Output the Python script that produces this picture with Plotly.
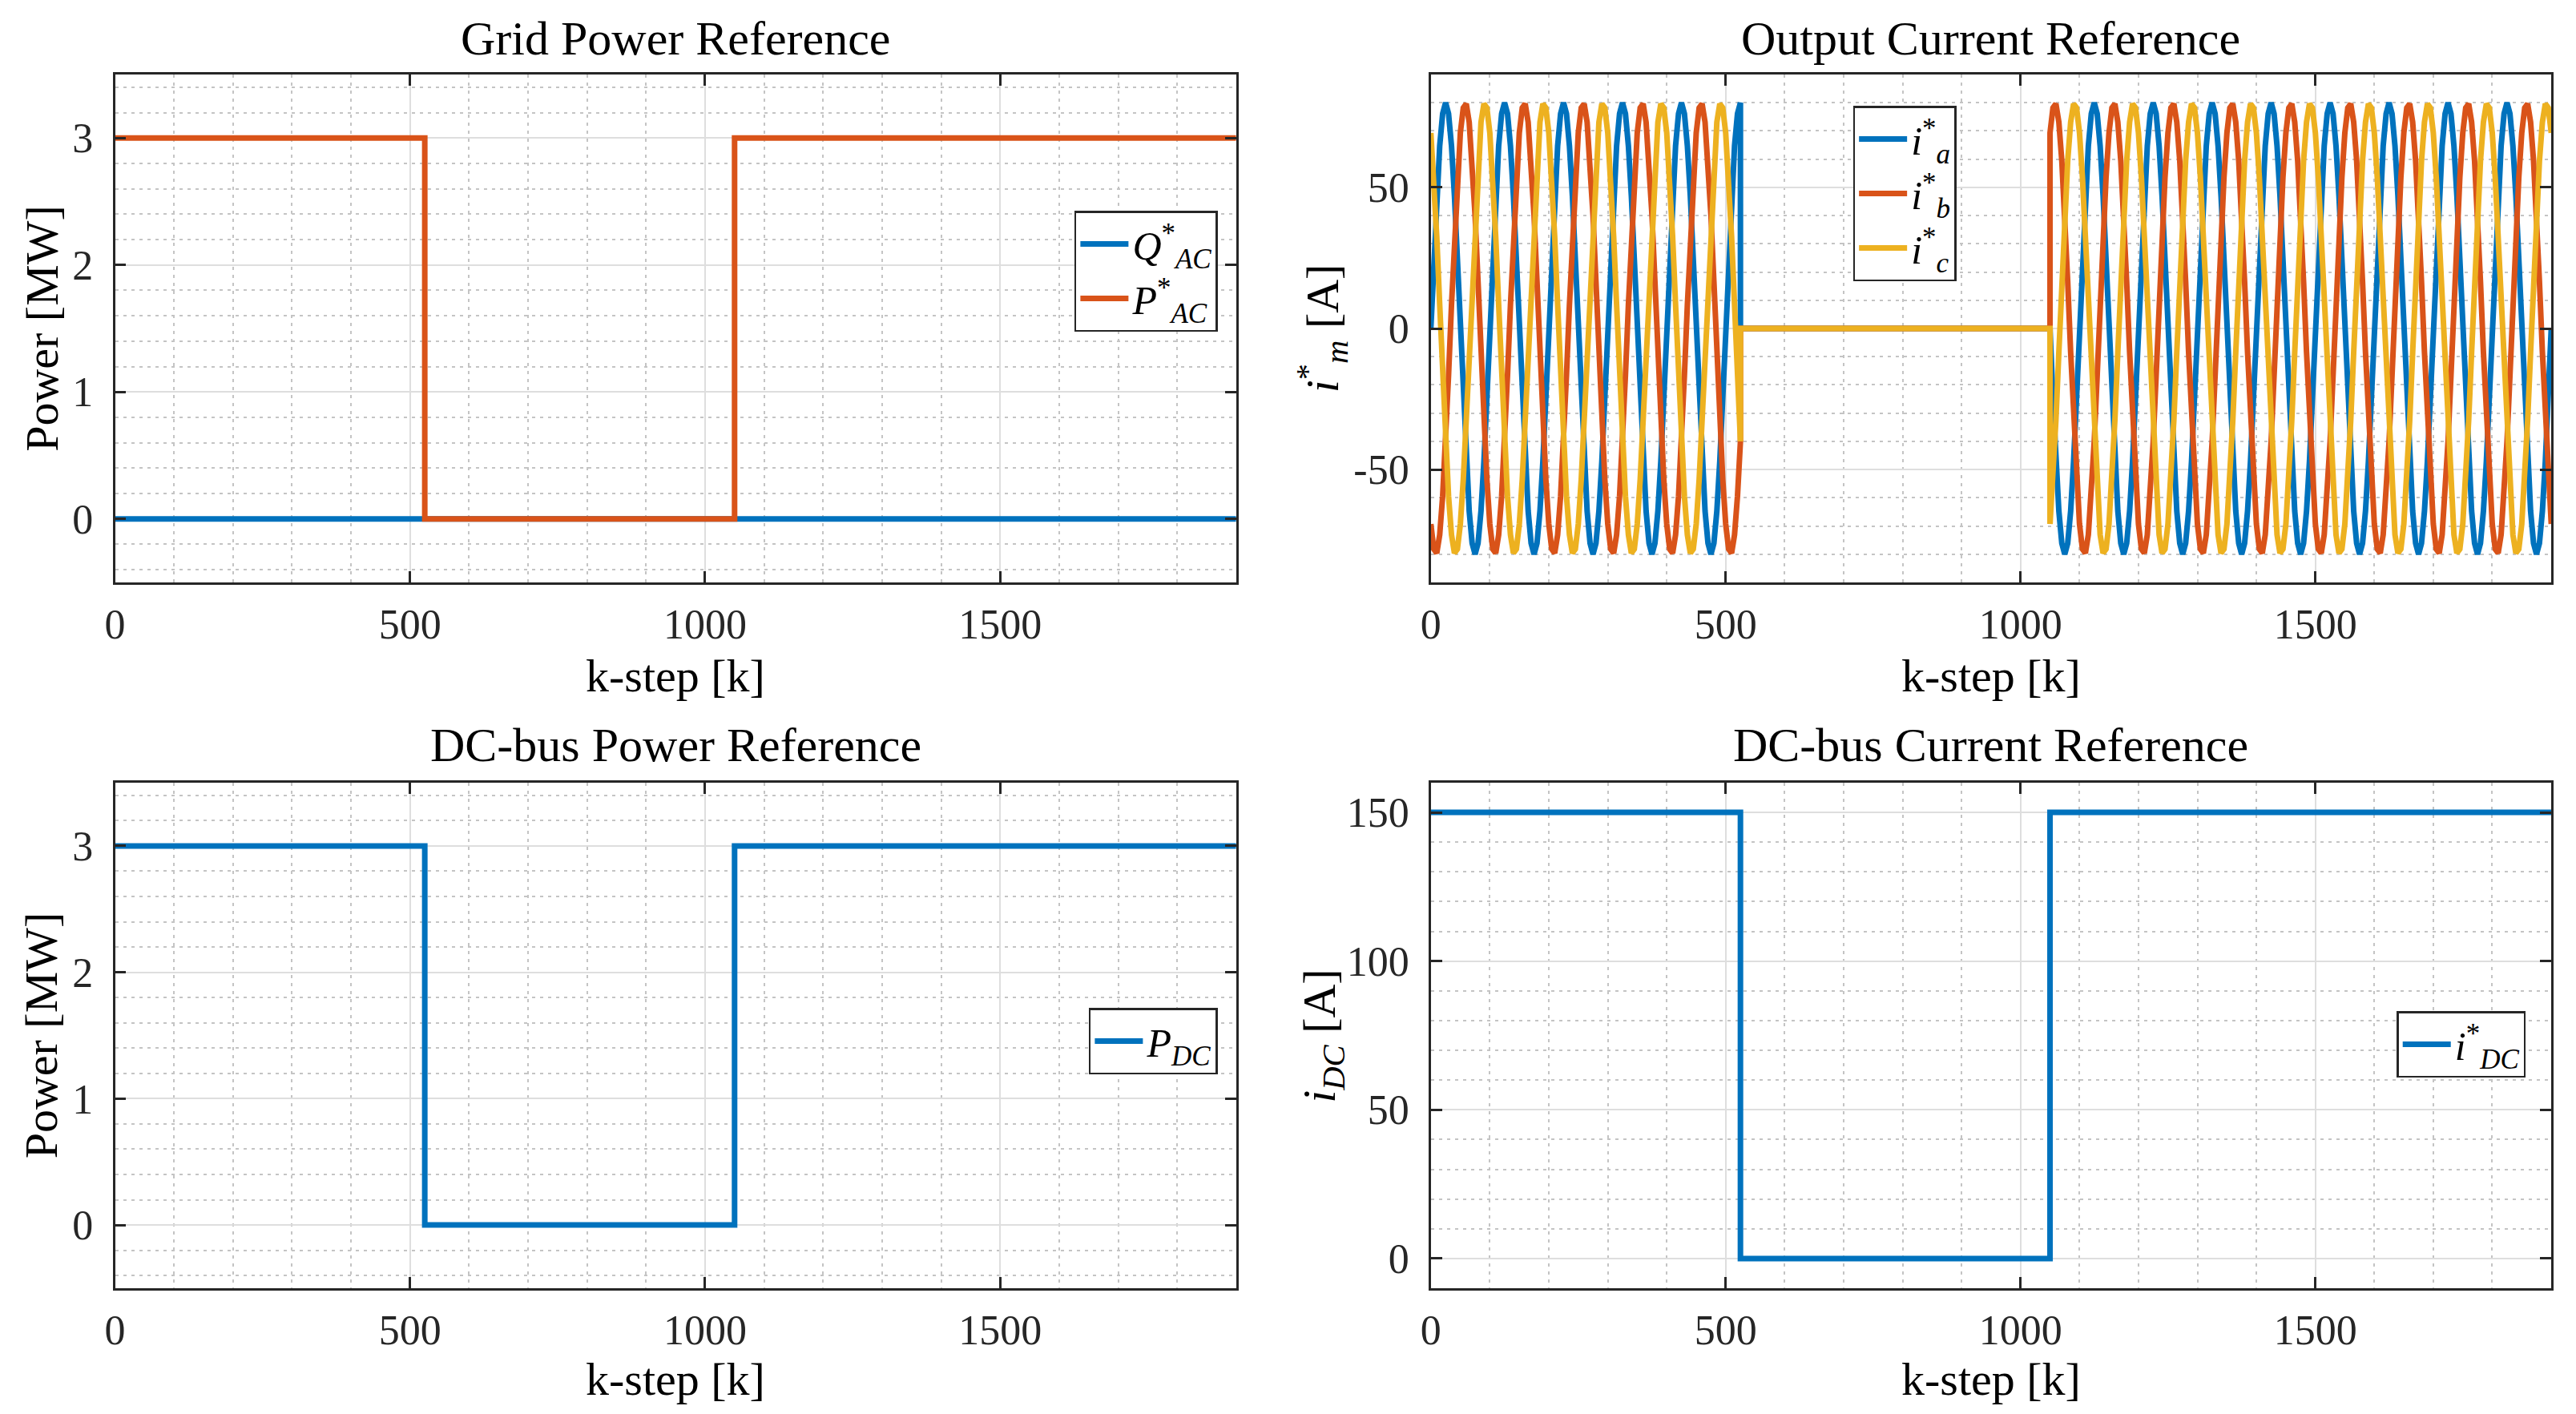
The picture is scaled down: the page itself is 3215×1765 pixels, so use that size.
import numpy as np
import plotly.graph_objects as go

# ---------------- data ----------------
# step references: value holds from each edge until the next one
K_STEP_EDGES = [0, 525, 1050, 1900]
Q_AC = [0, 0, 0, 0]          # MW
P_AC = [3, 0, 3, 3]          # MW
P_DC = [3, 0, 3, 3]          # MW
I_DC = [150, 0, 150, 150]    # A

# three-phase current reference: one cycle (100 k-steps) sampled every 5 k-steps
SAMPLE_DK = 5
IA_CYCLE = [0.0, 24.7, 47.0, 64.7, 76.1, 80.0, 76.1, 64.7, 47.0, 24.7,
            0.0, -24.7, -47.0, -64.7, -76.1, -80.0, -76.1, -64.7, -47.0, -24.7]
IB_CYCLE = [-69.3, -78.2, -79.6, -73.1, -59.4, -40.0, -16.6, 8.4, 32.5, 53.5,
            69.3, 78.2, 79.6, 73.1, 59.4, 40.0, 16.6, -8.4, -32.5, -53.5]
IC_CYCLE = [69.3, 53.5, 32.5, 8.4, -16.6, -40.0, -59.4, -73.1, -79.6, -78.2,
            -69.3, -53.5, -32.5, -8.4, 16.6, 40.0, 59.4, 73.1, 79.6, 78.2]
CURRENT_OFF = (525, 1050)     # all phase references are zero in this interval
K_END = 1900

# axis ticks
X_TICKS = [0, 500, 1000, 1500]
Y_TICKS_POWER = [0, 1, 2, 3]
Y_TICKS_IM = [-50, 0, 50]
Y_TICKLABELS_IM = ["-50", "0", "50"]
Y_TICKS_IDC = [0, 50, 100, 150]

TITLES = ["Grid Power Reference", "Output Current Reference",
          "DC-bus Power Reference", "DC-bus Current Reference"]

# ---------------- build current series ----------------
k_all = np.arange(0, K_END + SAMPLE_DK, SAMPLE_DK)
cyc_idx = (k_all // SAMPLE_DK) % len(IA_CYCLE)
on1 = k_all <= CURRENT_OFF[0]
on2 = k_all >= CURRENT_OFF[1]


def phase_series(cycle):
    vals = np.asarray(cycle)[cyc_idx]
    x = np.concatenate([k_all[on1], [CURRENT_OFF[0], CURRENT_OFF[1]], k_all[on2]])
    y = np.concatenate([vals[on1], [0.0, 0.0], vals[on2]])
    return x, y


BLUE = "#0072BD"
ORANGE = "#D95319"
YELLOW = "#EDB120"
FONT = "Liberation Serif"
TXT = "#262626"
LW = 7

# page is 3215x1765; the browser body keeps an 8px margin
PAGE_W, PAGE_H, BODY = 3215, 1765, 8
W, H = PAGE_W - 2 * BODY, PAGE_H - 2 * BODY
OFF_X, OFF_Y = 14, 5   # measured placement offset of the figure on the page


def fx(px):
    return (px - OFF_X) / W


def fy(py):
    return 1 - (py - OFF_Y) / H


XD_L = [fx(137), fx(1542)]
XD_R = [fx(1786), fx(3190)]
YD_T = [fy(724), fy(90)]
YD_B = [fy(1605), fy(974)]

fig = go.Figure()

# top-left: grid power
fig.add_trace(go.Scatter(x=K_STEP_EDGES, y=Q_AC, mode="lines", line_shape="hv",
                         line=dict(color=BLUE, width=LW),
                         name="<i>Q</i><sup>*</sup><sub><i>AC</i></sub>",
                         xaxis="x", yaxis="y", legend="legend"))
fig.add_trace(go.Scatter(x=K_STEP_EDGES, y=P_AC, mode="lines", line_shape="hv",
                         line=dict(color=ORANGE, width=LW),
                         name="<i>P</i><sup>*</sup><sub><i>AC</i></sub>",
                         xaxis="x", yaxis="y", legend="legend"))

# top-right: output currents
for cyc, col, nm in [(IA_CYCLE, BLUE, "a"), (IB_CYCLE, ORANGE, "b"), (IC_CYCLE, YELLOW, "c")]:
    x, y = phase_series(cyc)
    fig.add_trace(go.Scatter(x=x, y=y, mode="lines", line=dict(color=col, width=LW),
                             name=f"<i>i</i><sup>*</sup><sub><i>{nm}</i></sub>",
                             xaxis="x2", yaxis="y2", legend="legend2"))

# bottom-left: DC power
fig.add_trace(go.Scatter(x=K_STEP_EDGES, y=P_DC, mode="lines", line_shape="hv",
                         line=dict(color=BLUE, width=LW),
                         name="<i>P<sub>DC</sub></i>",
                         xaxis="x3", yaxis="y3", legend="legend3"))

# bottom-right: DC current
fig.add_trace(go.Scatter(x=K_STEP_EDGES, y=I_DC, mode="lines", line_shape="hv",
                         line=dict(color=BLUE, width=LW),
                         name="<i>i</i><sup>*</sup><sub><i>DC</i></sub>",
                         xaxis="x4", yaxis="y4", legend="legend4"))

ax_common = dict(
    showline=True, linecolor=TXT, linewidth=2.5, mirror="allticks",
    ticks="inside", ticklen=14, tickwidth=2.5, tickcolor=TXT,
    showgrid=True, gridcolor="#dedede", gridwidth=2, zeroline=False,
    tickfont=dict(family=FONT, size=52, color=TXT),
    minor=dict(showgrid=True, gridcolor="#c4c4c4", gridwidth=2, griddash="4px,6px"),
)


def xax(domain, anchor):
    d = dict(ax_common)
    d.update(domain=domain, anchor=anchor, range=[0, K_END], tickmode="array",
             tickvals=X_TICKS, ticklabelstandoff=5)
    d["minor"] = dict(ax_common["minor"], dtick=100, tick0=0)
    return d


def yax(domain, anchor, rng, tickvals, minor_dtick, ticktext=None):
    d = dict(ax_common)
    d.update(domain=domain, anchor=anchor, range=rng, tickmode="array",
             tickvals=tickvals, ticklabelstandoff=14)
    if ticktext is not None:
        d["ticktext"] = ticktext
    d["minor"] = dict(ax_common["minor"], dtick=minor_dtick, tick0=0)
    return d


legend_common = dict(bgcolor="white", bordercolor=TXT, borderwidth=2.5,
                     font=dict(family=FONT, size=50, color="black"),
                     tracegroupgap=0, itemwidth=60)

fig.update_layout(
    width=W, height=H, margin=dict(l=0, r=0, t=0, b=0),
    paper_bgcolor="white", plot_bgcolor="white",
    xaxis=xax(XD_L, "y"), yaxis=yax(YD_T, "x", [-0.5, 3.5], Y_TICKS_POWER, 0.2),
    xaxis2=xax(XD_R, "y2"), yaxis2=yax(YD_T, "x2", [-90, 90], Y_TICKS_IM, 10, Y_TICKLABELS_IM),
    xaxis3=xax(XD_L, "y3"), yaxis3=yax(YD_B, "x3", [-0.5, 3.5], Y_TICKS_POWER, 0.2),
    xaxis4=xax(XD_R, "y4"), yaxis4=yax(YD_B, "x4", [-10, 160], Y_TICKS_IDC, 10),
    legend=dict(legend_common, x=fx(1519), y=fy(260), xanchor="right", yanchor="top"),
    legend2=dict(legend_common, x=fx(2315), y=fy(129), xanchor="left", yanchor="top"),
    legend3=dict(legend_common, x=fx(1519), y=fy(1255), xanchor="right", yanchor="top"),
    legend4=dict(legend_common, x=fx(3158), y=fy(1259), xanchor="right", yanchor="top"),
    showlegend=True,
)

# titles and axis labels
title_font = dict(family=FONT, size=60, color="black")
label_font = dict(family=FONT, size=58, color="black")
xc_l = sum(XD_L) / 2
xc_r = sum(XD_R) / 2
anns = [
    (xc_l, fy(45), TITLES[0], 0, title_font),
    (xc_r, fy(45), TITLES[1], 0, title_font),
    (xc_l, fy(927), TITLES[2], 0, title_font),
    (xc_r, fy(927), TITLES[3], 0, title_font),
    (xc_l, fy(840), "k-step [k]", 0, label_font),
    (xc_r, fy(840), "k-step [k]", 0, label_font),
    (xc_l, fy(1718), "k-step [k]", 0, label_font),
    (xc_r, fy(1718), "k-step [k]", 0, label_font),
    (fx(45), sum(YD_T) / 2, "Power [MW]", -90, label_font),
    (fx(1650), sum(YD_T) / 2, "<i>i</i><sup>*</sup><sub><i>m</i></sub> [A]", -90, label_font),
    (fx(45), sum(YD_B) / 2, "Power [MW]", -90, label_font),
    (fx(1650), sum(YD_B) / 2, "<i>i<sub>DC</sub></i> [A]", -90, label_font),
]
for x, y, t, ang, f in anns:
    fig.add_annotation(x=x, y=y, xref="paper", yref="paper", text=t, showarrow=False,
                       xanchor="center", yanchor="middle", textangle=ang, font=f)

fig.write_html("out.html")
